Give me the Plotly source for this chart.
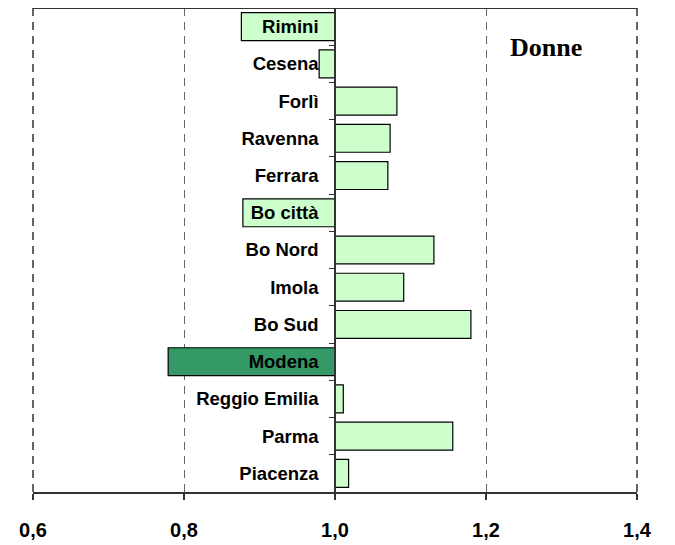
import plotly.graph_objects as go

categories = ["Rimini", "Cesena", "Forlì", "Ravenna", "Ferrara", "Bo città",
              "Bo Nord", "Imola", "Bo Sud", "Modena", "Reggio Emilia", "Parma", "Piacenza"]
values = [0.876, 0.979, 1.082, 1.073, 1.070, 0.878,
          1.131, 1.091, 1.180, 0.779, 1.011, 1.156, 1.018]
highlight = "Modena"
baseline = 1.0
x_tickvals = [0.6, 0.8, 1.0, 1.2, 1.4]
x_ticktext = ["0,6", "0,8", "1,0", "1,2", "1,4"]
title_text = "Donne"

light = "#CCFFCC"
dark = "#339966"
colors = [dark if c == highlight else light for c in categories]

fig = go.Figure()
fig.add_trace(go.Bar(
    y=categories,
    x=[v - baseline for v in values],
    base=baseline,
    orientation="h",
    marker=dict(color=colors, line=dict(color="black", width=1.2)),
    hovertemplate="%{y}: %{customdata}<extra></extra>",
    customdata=values,
))

fig.update_layout(
    width=675, height=545,
    margin=dict(l=25, r=46, t=0, b=61, pad=0),
    paper_bgcolor="white", plot_bgcolor="white",
    bargap=0.25,
    showlegend=False,
    font=dict(family="Liberation Sans, Arial, sans-serif", color="black"),
    xaxis=dict(
        range=[0.6, 1.4],
        tickvals=x_tickvals,
        ticktext=["<b>%s</b>" % t for t in x_ticktext],
        tickfont=dict(size=20, color="black"),
        ticks="outside", ticklen=6, tickcolor="#333333", tickwidth=1.5,
        ticklabelstandoff=13,
        showline=True, linecolor="#333333", linewidth=2,
        showgrid=True, gridcolor="#666666", gridwidth=1.3, griddash="8px,6px",
        zeroline=False,
    ),
    yaxis=dict(
        categoryorder="array", categoryarray=categories,
        autorange="reversed",
        tickvals=categories,
        ticktext=["<b>%s</b>" % c for c in categories],
        tickfont=dict(size=18.5, color="black"),
        anchor="free", position=0.5,
        showline=True, linecolor="#333333", linewidth=1.5,
        ticks="outside", ticklen=5, tickcolor="#333333",
        tickson="boundaries",
        ticklabelstandoff=12,
        showgrid=False, zeroline=False,
    ),
)

# plot-area frame: dashed left/right, solid top
fig.add_shape(type="line", xref="paper", yref="paper", x0=0, x1=0, y0=0, y1=1,
              line=dict(color="#333333", width=1.5, dash="8px,6px"))
fig.add_shape(type="line", xref="paper", yref="paper", x0=1, x1=1, y0=0, y1=1,
              line=dict(color="#333333", width=1.5, dash="8px,6px"))
fig.add_shape(type="line", xref="paper", yref="paper", x0=0, x1=1, y0=1, y1=1,
              line=dict(color="#333333", width=2))

fig.add_annotation(
    text="<b>%s</b>" % title_text, xref="x", yref="paper",
    x=1.28, y=0.919, xanchor="center", yanchor="middle", showarrow=False,
    font=dict(family="Liberation Serif, Times New Roman, serif", size=26, color="black"),
)

fig.write_html("out.html")
